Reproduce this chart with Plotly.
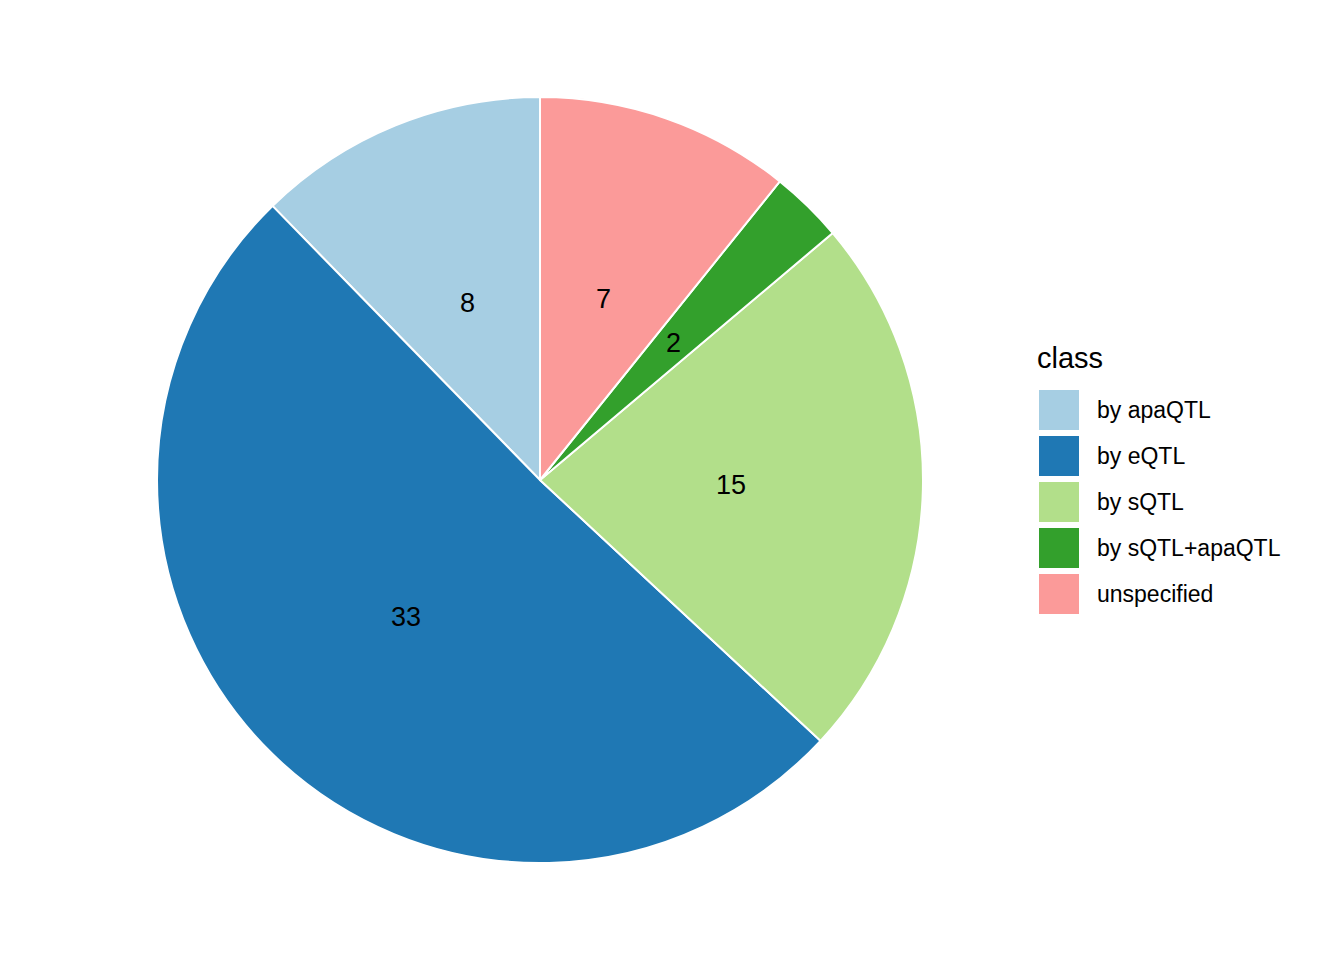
import math
import plotly.graph_objects as go

categories = ["by apaQTL", "by eQTL", "by sQTL", "by sQTL+apaQTL", "unspecified"]
values = [8, 33, 15, 2, 7]
colors = ["#A6CEE3", "#1F78B4", "#B2DF8A", "#33A02C", "#FB9A99"]

W, H = 1344, 960
cx, cy, R = 540, 480, 383  # pixel layout of the pie

def px(x):
    return x / W

def py(y):
    return 1 - y / H

total = sum(values)

fig = go.Figure()
fig.add_trace(go.Pie(
    labels=categories, values=values, sort=False,
    direction="counterclockwise", rotation=-values[0] / total * 360,
    marker=dict(colors=colors, line=dict(color="white", width=2)),
    textinfo="none", hoverinfo="label+value", showlegend=False,
    domain=dict(x=[px(cx - R), px(cx + R)], y=[py(cy + R), py(cy - R)]),
))

annotations = []
shapes = []
cum = 0
for v in values:
    mid = (cum + v / 2) / total * 2 * math.pi
    cum += v
    r = R * 0.5
    x = cx - r * math.sin(mid)
    y = cy - r * math.cos(mid)
    annotations.append(dict(x=px(x), y=py(y), xref="paper", yref="paper",
                            xanchor="center", yanchor="middle",
                            text=str(v), showarrow=False,
                            font=dict(size=27, color="black")))

# legend
annotations.append(dict(x=px(1035), y=py(358), xref="paper", yref="paper",
                        text="class", showarrow=False, xanchor="left", yanchor="middle",
                        font=dict(size=29, color="black")))
for i, (c, col) in enumerate(zip(categories, colors)):
    top = 390 + i * 46
    shapes.append(dict(type="rect", xref="paper", yref="paper",
                       x0=px(1039), x1=px(1079), y0=py(top + 40), y1=py(top),
                       fillcolor=col, line=dict(width=0)))
    annotations.append(dict(x=px(1095), y=py(top + 20), xref="paper", yref="paper",
                            text=c, showarrow=False, xanchor="left", yanchor="middle",
                            font=dict(size=23, color="black")))

fig.update_layout(
    width=W, height=H, margin=dict(l=0, r=0, t=0, b=0),
    paper_bgcolor="white", plot_bgcolor="white",
    font=dict(family="Liberation Sans, Arial, sans-serif"),
    annotations=annotations, shapes=shapes, showlegend=False,
)
fig.write_html("out.html", config={"displayModeBar": False},
               post_script="document.body.style.margin='0';")
